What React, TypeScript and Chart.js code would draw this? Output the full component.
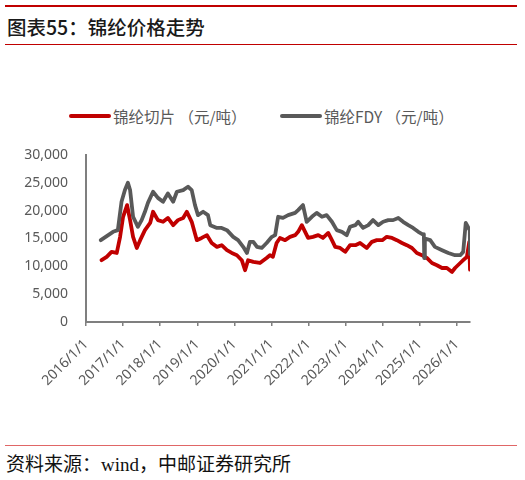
import React, { useEffect, useRef } from "react";
import { Chart, registerables } from "chart.js";

Chart.register(...registerables);

// ---- data ----
const yearTicks = [2016, 2017, 2018, 2019, 2020, 2021, 2022, 2023, 2024, 2025, 2026];
const yTicksMin = 0;
const yTicksMax = 30000;
const yTicksStep = 5000;

const seriesNames = ["锦纶切片 （元/吨）", "锦纶FDY （元/吨）"];

const sliceDates = [
  "2016-06-02", "2016-07-22", "2016-09-09", "2016-10-30", "2016-12-02", "2017-01-01",
  "2017-02-10", "2017-03-09", "2017-04-08", "2017-05-14", "2017-06-17", "2017-08-03",
  "2017-09-24", "2017-10-22", "2017-12-09", "2018-01-29", "2018-03-16", "2018-05-07",
  "2018-06-24", "2018-08-14", "2018-09-20", "2018-11-07", "2018-12-27", "2019-02-14",
  "2019-04-05", "2019-05-21", "2019-07-12", "2019-08-28", "2019-10-19", "2019-12-06",
  "2020-01-26", "2020-03-13", "2020-04-15", "2020-05-14", "2020-07-05", "2020-09-09",
  "2020-11-14", "2020-12-16", "2021-01-15", "2021-02-21", "2021-03-24", "2021-05-14",
  "2021-07-01", "2021-08-21", "2021-09-20", "2021-10-26", "2021-11-28", "2021-12-27",
  "2022-02-14", "2022-04-05", "2022-05-21", "2022-07-12", "2022-08-18", "2022-09-20",
  "2022-11-07", "2022-12-27", "2023-02-14", "2023-04-05", "2023-05-21", "2023-07-26",
  "2023-09-16", "2023-11-03", "2023-12-27", "2024-02-10", "2024-04-01", "2024-05-18",
  "2024-07-08", "2024-08-25", "2024-10-15", "2024-12-02", "2025-01-22", "2025-03-09",
  "2025-04-29", "2025-06-17", "2025-08-07", "2025-09-24", "2025-11-14", "2025-12-13",
  "2026-02-03", "2026-03-02", "2026-04-08", "2026-05-01", "2026-05-08",
];
const sliceValues = [
  11100, 11700, 12600, 12400, 15300, 18900,
  21000, 18300, 15300, 13300, 14700, 16500,
  17800, 19800, 18300, 18000, 18700, 17400,
  18300, 18700, 19800, 18000, 14700, 15100,
  15600, 14200, 13500, 13800, 12900, 12400,
  12000, 11100, 9300, 11100, 10800, 10600,
  11500, 12000, 11700, 14200, 15100, 14700,
  15300, 15600, 16200, 17400, 16200, 15100,
  15300, 15600, 15100, 16000, 14700, 13500,
  13300, 12600, 13800, 13800, 14200, 13300,
  14400, 14700, 14700, 15300, 15100, 14700,
  14200, 13800, 13300, 12400, 12000, 11500,
  10600, 10200, 9700, 9700, 9000, 9700,
  10600, 11100, 11700, 14400, 9400,
];

const fdyDates = [
  "2016-05-25", "2016-09-24", "2016-11-10", "2016-12-16", "2017-01-19", "2017-02-18",
  "2017-03-09", "2017-04-08", "2017-05-25", "2017-07-01", "2017-08-03", "2017-09-02",
  "2017-10-22", "2017-12-09", "2018-01-29", "2018-03-16", "2018-05-07", "2018-06-13",
  "2018-08-14", "2018-10-01", "2018-11-07", "2018-12-09", "2019-01-08", "2019-02-28",
  "2019-04-15", "2019-05-07", "2019-07-12", "2019-08-28", "2019-10-19", "2019-12-20",
  "2020-02-07", "2020-03-27", "2020-05-03", "2020-06-02", "2020-07-05", "2020-08-11",
  "2020-09-27", "2020-11-14", "2021-01-05", "2021-02-07", "2021-03-06", "2021-04-23",
  "2021-06-13", "2021-08-21", "2021-09-20", "2021-11-07", "2021-12-13", "2022-02-03",
  "2022-03-20", "2022-05-11", "2022-06-27", "2022-08-18", "2022-10-05", "2022-11-25",
  "2023-01-12", "2023-02-14", "2023-04-05", "2023-05-03", "2023-06-20", "2023-08-11",
  "2023-09-27", "2023-11-18", "2024-01-05", "2024-02-25", "2024-04-12", "2024-06-02",
  "2024-07-19", "2024-09-09", "2024-10-26", "2024-12-16", "2025-02-03", "2025-02-10",
  "2025-02-14", "2025-02-20", "2025-04-12", "2025-05-28", "2025-08-07", "2025-10-08",
  "2025-12-13", "2026-02-03", "2026-03-02", "2026-03-27", "2026-04-23", "2026-05-06",
  "2026-05-08",
];
const fdyValues = [
  14700, 16200, 16500, 21600, 23700, 25000,
  23700, 18900, 17100, 18300, 19800, 21400,
  23400, 22300, 21600, 23100, 21600, 23400,
  23700, 24300, 23700, 21000, 19200, 19800,
  19200, 17400, 16900, 16900, 16500, 15300,
  14700, 13500, 12400, 14400, 14400, 13500,
  13300, 14200, 15300, 15600, 18900, 18700,
  19200, 19600, 20100, 21000, 18000, 18900,
  19600, 18900, 19200, 18000, 16500, 16200,
  15600, 17100, 17400, 18000, 16900, 17400,
  18300, 17400, 18000, 18300, 18300, 18700,
  18000, 17400, 16900, 16200, 15700, 15800,
  11500, 15000, 14700, 13500, 12900, 12400,
  12000, 12000, 12600, 17800, 16900, 16500,
  12200,
];

// ---- helpers ----
const toYear = (s: string) => {
  const [y, m, d] = s.split("-").map(Number);
  return y + (m - 1) / 12 + (d - 1) / 365;
};
const toPoints = (dates: string[], values: number[]) =>
  dates.map((d, i) => ({ x: toYear(d), y: values[i] }));

const RED = "#c00000";
const GRAY = "#595959";
const AXIS = "#7f7f7f";
const TEXT = "#595959";

export default function App() {
  const canvasRef = useRef<HTMLCanvasElement | null>(null);

  useEffect(() => {
    if (!canvasRef.current) return;
    const xMax = Math.max(toYear(sliceDates[sliceDates.length - 1]), toYear(fdyDates[fdyDates.length - 1]));
    const chart = new Chart(canvasRef.current, {
      type: "line",
      data: {
        datasets: [
          {
            label: seriesNames[0],
            data: toPoints(sliceDates, sliceValues),
            borderColor: RED,
            backgroundColor: RED,
            borderWidth: 3.8,
            pointRadius: 0,
            tension: 0,
            borderJoinStyle: "round",
            borderCapStyle: "round",
            order: 1,
          },
          {
            label: seriesNames[1],
            data: toPoints(fdyDates, fdyValues),
            borderColor: GRAY,
            backgroundColor: GRAY,
            borderWidth: 3.8,
            pointRadius: 0,
            tension: 0,
            borderJoinStyle: "round",
            borderCapStyle: "round",
            order: 0,
          },
        ],
      },
      options: {
        responsive: false,
        animation: false,
        devicePixelRatio: 1,
        layout: { padding: { left: 0, right: 55, top: 15, bottom: 0 } },
        plugins: { legend: { display: false }, tooltip: { enabled: false } },
        scales: {
          x: {
            type: "linear",
            min: yearTicks[0],
            max: xMax,
            afterBuildTicks: (scale: any) => {
              scale.ticks = yearTicks.map((v) => ({ value: v }));
            },
            afterFit: (scale: any) => {
              scale.height = 78;
            },
            ticks: {
              autoSkip: false,
              minRotation: 45,
              maxRotation: 45,
              padding: 10,
              color: TEXT,
              font: { family: "'Noto Sans', sans-serif", size: 14 },
              callback: (v: any) => `${v}/1/1`,
            },
            grid: {
              display: true,
              drawOnChartArea: false,
              drawTicks: true,
              tickLength: 4,
              color: AXIS,
              lineWidth: 1.5,
            },
            border: { display: true, color: AXIS, width: 2 },
          },
          y: {
            min: yTicksMin,
            max: yTicksMax,
            afterFit: (scale: any) => {
              scale.width = 86;
              scale.paddingTop = 0;
              scale.paddingBottom = 0;
            },
            ticks: {
              stepSize: yTicksStep,
              padding: 18,
              color: TEXT,
              font: { family: "'Noto Sans', sans-serif", size: 14 },
              callback: (v: any) => Number(v).toLocaleString("en-US"),
            },
            grid: { display: true, drawOnChartArea: false, drawTicks: false, color: AXIS },
            border: { display: true, color: AXIS, width: 2 },
          },
        },
      },
    });
    return () => chart.destroy();
  }, []);

  const cjk = "'Noto Sans CJK SC', 'Noto Sans', sans-serif";

  return (
    <div style={{ position: "absolute", left: 0, top: 0, width: 525, height: 480, background: "#fff", overflow: "hidden" }}>
      <div style={{ position: "absolute", left: 5, top: 5, width: 512, height: 2, background: RED }} />
      <div
        style={{
          position: "absolute", left: 7, top: 16, height: 22, lineHeight: "22px",
          fontFamily: cjk, fontSize: 19.5, color: "#1a1a1a", fontWeight: 500, whiteSpace: "nowrap",
        }}
      >
        图表55：锦纶价格走势
      </div>
      <div style={{ position: "absolute", left: 5, top: 44, width: 512, height: 1, background: RED }} />

      {/* legend */}
      <div style={{ position: "absolute", left: 69, top: 114, width: 42, height: 4, borderRadius: 2, background: RED }} />
      <div
        style={{
          position: "absolute", left: 113, top: 105, height: 22, lineHeight: "22px",
          fontFamily: cjk, fontSize: 15.5, color: TEXT, whiteSpace: "pre",
        }}
      >
        {seriesNames[0]}
      </div>
      <div style={{ position: "absolute", left: 280, top: 114, width: 42, height: 4, borderRadius: 2, background: GRAY }} />
      <div
        style={{
          position: "absolute", left: 324, top: 105, height: 22, lineHeight: "22px",
          fontFamily: cjk, fontSize: 15.5, color: TEXT, whiteSpace: "pre",
        }}
      >
        {seriesNames[1]}
      </div>

      <canvas ref={canvasRef} width={525} height={260} style={{ position: "absolute", left: 0, top: 140, width: 525, height: 260 }} />

      <div style={{ position: "absolute", left: 5, top: 445, width: 512, height: 1, background: "#e06666" }} />
      <div
        style={{
          position: "absolute", left: 6, top: 454, height: 22, lineHeight: "22px",
          fontFamily: "'Liberation Serif', 'Noto Sans CJK SC', serif", fontSize: 19, color: "#111", whiteSpace: "nowrap",
        }}
      >
        资料来源：wind，中邮证券研究所
      </div>
    </div>
  );
}
